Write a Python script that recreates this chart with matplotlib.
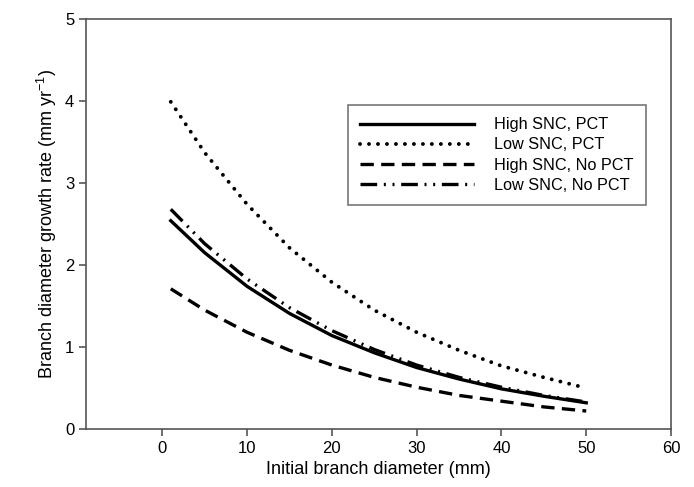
import matplotlib.pyplot as plt
import numpy as np

plt.rcParams['font.family'] = ['Liberation Sans', 'DejaVu Sans']
plt.rcParams['mathtext.default'] = 'regular'

diameter = [1, 5, 10, 15, 20, 25, 30, 35, 40, 45, 50]
high_snc_pct = [2.54, 2.15, 1.74, 1.41, 1.14, 0.93, 0.75, 0.61, 0.49, 0.40, 0.32]
low_snc_pct = [3.99, 3.37, 2.74, 2.21, 1.79, 1.45, 1.18, 0.96, 0.77, 0.63, 0.50]
high_snc_nopct = [1.71, 1.45, 1.18, 0.96, 0.78, 0.63, 0.51, 0.41, 0.34, 0.27, 0.22]
low_snc_nopct = [2.68, 2.26, 1.83, 1.48, 1.20, 0.97, 0.78, 0.63, 0.51, 0.41, 0.33]

fig = plt.figure(figsize=(6.94, 4.87), dpi=100)
ax = fig.add_axes([0.1239, 0.119, 0.843, 0.842])

ax.plot(diameter, high_snc_pct, color="black", lw=2.4, label="High SNC, PCT")
ax.plot(diameter, low_snc_pct, color="black", lw=2.8, dashes=(0.01, 2.3),
        dash_capstyle="round", label="Low SNC, PCT")
ax.plot(diameter, high_snc_nopct, color="black", lw=2.4, dashes=(4, 2.2),
        label="High SNC, No PCT")
ax.plot(diameter, low_snc_nopct, color="black", lw=2.4,
        dashes=(5, 2, 0.6, 2, 0.6, 2), label="Low SNC, No PCT")

ax.set_xlim(-9, 60)
ax.set_ylim(0, 5)
ax.set_xticks([0, 10, 20, 30, 40, 50, 60])
ax.set_yticks([0, 1, 2, 3, 4, 5])
ax.set_xlabel("Initial branch diameter (mm)", fontsize=13)
ax.set_ylabel("Branch diameter growth rate (mm yr$^{-1}$)", fontsize=13)

for s in ax.spines.values():
    s.set_color("#555555")
    s.set_linewidth(1.2)
ax.tick_params(direction="out", length=5, width=1.2, color="#555555",
               labelsize=12)

leg = ax.legend(loc="upper left", bbox_to_anchor=(0.448, 0.79), fancybox=False,
                edgecolor="#555555", handlelength=7.0, fontsize=11.7,
                borderpad=0.75, labelspacing=0.32, handletextpad=1.25,
                borderaxespad=0)
leg.get_frame().set_linewidth(1.2)

fig.savefig("out.png", dpi=100)
